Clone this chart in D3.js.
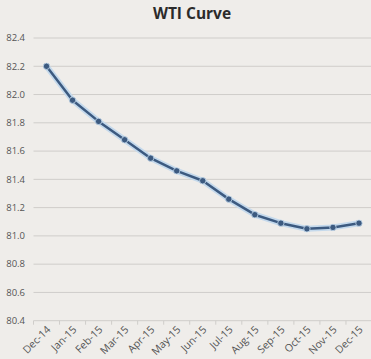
<!DOCTYPE html>
<html><head><meta charset="utf-8">
<script src="https://cdn.jsdelivr.net/npm/d3@7"></script>
<style>body{margin:0;background:#efedea;}svg{display:block;}</style>
</head><body>
<script>
const categories = ["Dec-14","Jan-15","Feb-15","Mar-15","Apr-15","May-15","Jun-15","Jul-15","Aug-15","Sep-15","Oct-15","Nov-15","Dec-15"];
const values = [82.20,81.96,81.81,81.68,81.55,81.46,81.39,81.26,81.15,81.09,81.05,81.06,81.09];
const yTicks = [80.4,80.6,80.8,81.0,81.2,81.4,81.6,81.8,82.0,82.2,82.4];
const title = "WTI Curve";

const W = 371, H = 359;
const svg = d3.select("body").append("svg").attr("width", W).attr("height", H);
svg.append("rect").attr("width", W).attr("height", H).attr("fill", "#efedea");

const x = d3.scaleBand().domain(categories).range([33.5, 372]);
const y = d3.scaleLinear().domain([80.4, 82.4]).range([320.7, 38]);

const font = "'Open Sans', sans-serif";

svg.append("text").attr("x", 192).attr("y", 19).attr("text-anchor", "middle")
  .attr("font-family", font).attr("font-weight", "bold").attr("font-size", 15.5)
  .attr("fill", "#2b2b2b").text(title);

// gridlines
svg.append("g").selectAll("line").data(yTicks).join("line")
  .attr("x1", 33.5).attr("x2", 372)
  .attr("y1", d => y(d)).attr("y2", d => y(d))
  .attr("stroke", "#cfcdca").attr("stroke-width", 1);

// y labels
svg.append("g").selectAll("text").data(yTicks).join("text")
  .attr("x", 25).attr("y", d => y(d)).attr("dy", "0.35em").attr("text-anchor", "end")
  .attr("font-family", font).attr("font-size", 9.5).attr("fill", "#555")
  .text(d => d.toFixed(1));

// x axis ticks
const bounds = categories.map(c => x(c)).concat([x.range()[1]]);
svg.append("g").selectAll("line").data(bounds).join("line")
  .attr("x1", d => d).attr("x2", d => d)
  .attr("y1", y(80.4)).attr("y2", y(80.4) + 4)
  .attr("stroke", "#cfcdca");

// x labels
svg.append("g").selectAll("text").data(categories).join("text")
  .attr("transform", d => `translate(${x(d) + x.bandwidth()/2 + 2},${y(80.4) + 7}) rotate(-45)`)
  .attr("text-anchor", "end").attr("dy", "0.35em")
  .attr("font-family", font).attr("font-size", 10.5).attr("fill", "#555")
  .text(d => d);

const cx = d => x(d) + x.bandwidth()/2;
const line = d3.line().x((d,i) => cx(categories[i])).y(d => y(d));

svg.append("path").datum(values).attr("d", line)
  .attr("fill", "none").attr("stroke", "#c4d9ec").attr("stroke-width", 6).attr("stroke-linejoin", "round");
svg.append("path").datum(values).attr("d", line)
  .attr("fill", "none").attr("stroke", "#3c5a80").attr("stroke-width", 2.5).attr("stroke-linejoin", "round");

svg.append("g").selectAll("circle").data(values).join("circle")
  .attr("cx", (d,i) => cx(categories[i])).attr("cy", d => y(d)).attr("r", 3.2)
  .attr("fill", "#3c5a80").attr("stroke", "#c4d9ec").attr("stroke-width", 0.8);
</script>
</body></html>
